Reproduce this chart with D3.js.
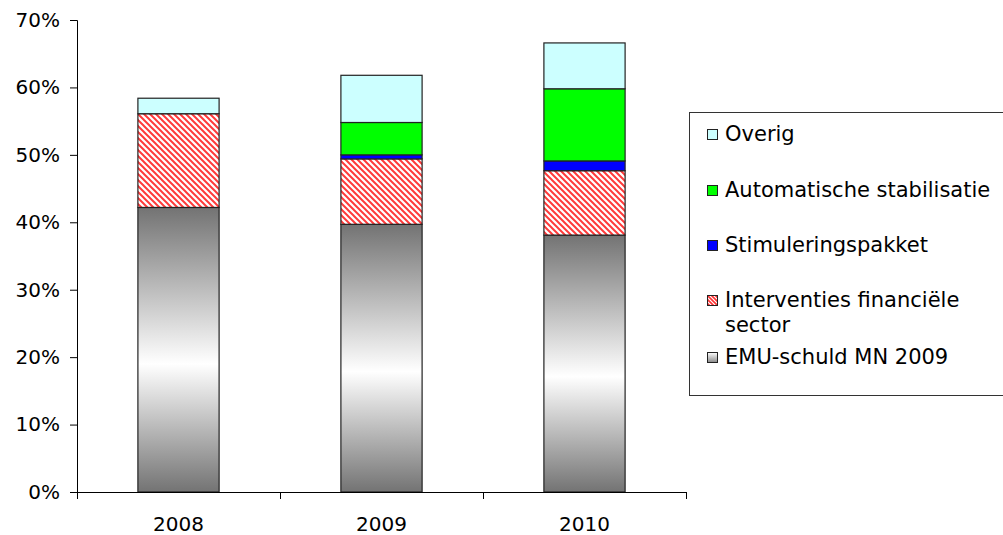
<!DOCTYPE html>
<html lang="en">
<head>
<meta charset="utf-8">
<title>EMU-schuld opbouw</title>
<script src="https://cdn.jsdelivr.net/npm/d3@7"></script>
<style>
  body { margin: 0; background: #fff; }
  text { font-family: "DejaVu Sans", Verdana, sans-serif; font-size: 20px; fill: #000; }
  .legend text { font-size: 21px; }
</style>
</head>
<body>
<script>
// data (percent of GDP)
var years = ["2008", "2009", "2010"];
var emuSchuld = [42.2, 39.7, 38.1];
var interventies = [13.9, 9.7, 9.55];
var stimulering = [0, 0.6, 1.45];
var automatisch = [0, 4.8, 10.7];
var overig = [2.3, 7.0, 6.8];
var yTicks = [0, 10, 20, 30, 40, 50, 60, 70];

var seriesKeys = ["emu", "interv", "stim", "auto", "overig"];

var w = 1003, h = 535;

var rows = years.map(function(y, i) {
  return { year: y, emu: emuSchuld[i], interv: interventies[i], stim: stimulering[i], auto: automatisch[i], overig: overig[i] };
});

var svg = d3.select("body").append("svg")
  .attr("width", w).attr("height", h);

var defs = svg.append("defs");

// grey gradient for EMU-schuld
var grad = defs.append("linearGradient")
  .attr("id", "greyGrad").attr("x1", 0).attr("y1", 0).attr("x2", 0).attr("y2", 1);
grad.append("stop").attr("offset", "0%").attr("stop-color", "#737373");
grad.append("stop").attr("offset", "55%").attr("stop-color", "#ffffff");
grad.append("stop").attr("offset", "100%").attr("stop-color", "#737373");

// red diagonal hatch
var pat = defs.append("pattern")
  .attr("id", "hatch").attr("patternUnits", "userSpaceOnUse")
  .attr("width", 6).attr("height", 6);
pat.append("rect").attr("width", 6).attr("height", 6).attr("fill", "#fff");
pat.append("path")
  .attr("d", "M0,0L6,6M-3,3L3,9M3,-3L9,3")
  .attr("stroke", "#ff3a3a").attr("stroke-width", 2);

var lg = defs.append("linearGradient")
  .attr("id", "legGrad").attr("x1", 0).attr("y1", 0).attr("x2", 0).attr("y2", 1);
lg.append("stop").attr("offset", "0%").attr("stop-color", "#fff");
lg.append("stop").attr("offset", "100%").attr("stop-color", "#888");

var lp = defs.append("pattern")
  .attr("id", "legHatch").attr("patternUnits", "userSpaceOnUse")
  .attr("width", 4).attr("height", 4);
lp.append("rect").attr("width", 4).attr("height", 4).attr("fill", "#fff");
lp.append("path").attr("d", "M0,0L4,4M-2,2L2,6M2,-2L6,2")
  .attr("stroke", "#ff3030").attr("stroke-width", 1.6);

var fills = {
  emu: "url(#greyGrad)",
  interv: "url(#hatch)",
  stim: "#0000ff",
  auto: "#00ff00",
  overig: "#ccffff"
};

var x = d3.scaleBand().domain(years).range([77, 686]).padding(0);
var y = d3.scaleLinear().domain([0, 70]).range([492, 20]);
var barW = x.bandwidth() * 0.4;

var layers = d3.stack().keys(seriesKeys)(rows);

svg.selectAll("g.layer")
  .data(layers)
  .enter().append("g")
  .attr("class", "layer")
  .attr("fill", function(d) { return fills[d.key]; })
  .selectAll("rect")
  .data(function(d) { return d.filter(function(p) { return p[1] - p[0] > 0; }); })
  .enter().append("rect")
  .attr("x", function(d) { return x(d.data.year) + (x.bandwidth() - barW) / 2; })
  .attr("y", function(d) { return y(d[1]); })
  .attr("width", barW)
  .attr("height", function(d) { return y(d[0]) - y(d[1]); })
  .attr("stroke", "#222")
  .attr("stroke-width", 1.2);

// y axis
var yAxis = d3.axisLeft(y).tickValues(yTicks)
  .tickFormat(function(d) { return d + "%"; })
  .tickSize(7).tickPadding(10);
var gy = svg.append("g").attr("transform", "translate(77,0)").call(yAxis);
gy.select(".domain").attr("d", "M-7,20.5H0.5V492.5");
gy.selectAll("text").style("font-size", "20px")
  .style("font-family", "'DejaVu Sans', Verdana, sans-serif").attr("fill", "#000");

// x axis with ticks at category boundaries
svg.append("line")
  .attr("x1", 77).attr("x2", 686).attr("y1", 492.5).attr("y2", 492.5)
  .attr("stroke", "#000");
var bounds = [77].concat(years.map(function(d) { return x(d) + x.bandwidth(); }));
svg.selectAll("line.xtick")
  .data(bounds).enter().append("line")
  .attr("class", "xtick")
  .attr("x1", function(d) { return Math.round(d) + 0.5; })
  .attr("x2", function(d) { return Math.round(d) + 0.5; })
  .attr("y1", 492).attr("y2", 499)
  .attr("stroke", "#000");
svg.selectAll("text.xlab")
  .data(years).enter().append("text")
  .attr("class", "xlab")
  .attr("x", function(d) { return x(d) + x.bandwidth() / 2; })
  .attr("y", 531)
  .attr("text-anchor", "middle")
  .text(function(d) { return d; });

// legend
var legend = svg.append("g").attr("class", "legend");
legend.append("rect")
  .attr("x", 689.5).attr("y", 112.5).attr("width", 330).attr("height", 283)
  .attr("fill", "#fff").attr("stroke", "#333").attr("stroke-width", 1);

var legendItems = [
  { key: "overig", lines: ["Overig"], cy: 134 },
  { key: "auto", lines: ["Automatische stabilisatie"], cy: 190 },
  { key: "stim", lines: ["Stimuleringspakket"], cy: 245 },
  { key: "interv", lines: ["Interventies financiële", "sector"], cy: 300 },
  { key: "emu", lines: ["EMU-schuld MN 2009"], cy: 357 }
];

var li = legend.selectAll("g.item").data(legendItems).enter().append("g").attr("class", "item");
li.append("rect")
  .attr("x", 707.5).attr("y", function(d) { return d.cy - 4.5; })
  .attr("width", 10).attr("height", 10)
  .attr("fill", function(d) { return d.key === "emu" ? "url(#legGrad)" : (d.key === "interv" ? "url(#legHatch)" : fills[d.key]); })
  .attr("stroke", "#222").attr("stroke-width", 1);
li.append("text")
  .attr("x", 725)
  .attr("y", function(d) { return d.cy + 7; })
  .selectAll("tspan").data(function(d) { return d.lines; }).enter().append("tspan")
  .attr("x", 725)
  .attr("dy", function(d, i) { return i === 0 ? 0 : 25; })
  .text(function(d) { return d; });
</script>
</body>
</html>
